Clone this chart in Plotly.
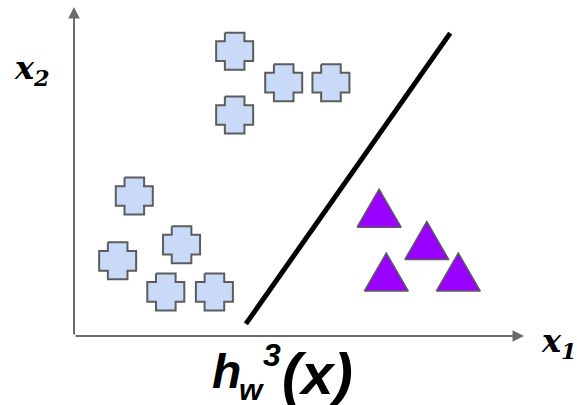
import plotly.graph_objects as go

# ---------------- data (feature space units) ----------------
cross_x1 = [3.57, 4.66, 5.71, 3.57, 1.34, 2.39, 0.97, 2.04, 3.12]
cross_x2 = [6.33, 5.63, 5.63, 4.91, 3.11, 2.03, 1.67, 0.98, 0.98]
tri_x1 = [6.78, 7.84, 6.94, 8.54]
tri_x2 = [2.84, 2.12, 1.42, 1.42]
boundary_x1 = [3.82, 8.36]
boundary_x2 = [0.27, 6.73]
axis_x1_end = 10.0
axis_x2_end = 7.31

# ---------------- styling ----------------
W, H = 577, 405
PX = 45.0            # pixels per data unit
ORIGIN_PX = (74, 336)
AXIS_COLOR = "#6b6b6b"
EDGE = "#5c5c5c"

# marker shape templates (pixels)
R, A = 18.5, 9.8
cross_tpl = [(-A, R), (A, R), (A, A), (R, A), (R, -A), (A, -A), (A, -R),
             (-A, -R), (-A, -A), (-R, -A), (-R, A), (-A, A), (-A, R)]
TW, TH = 22, 19
tri_tpl = [(-TW, -TH), (TW, -TH), (0, TH), (-TW, -TH)]


def polys(cx, cy, tpl):
    xs, ys = [], []
    for x0, y0 in zip(cx, cy):
        for dx, dy in tpl:
            xs.append(x0 + dx / PX)
            ys.append(y0 + dy / PX)
        xs.append(None)
        ys.append(None)
    return xs, ys


fig = go.Figure()

cx, cy = polys(cross_x1, cross_x2, cross_tpl)
fig.add_trace(go.Scatter(x=cx, y=cy, mode="lines", fill="toself",
                         fillcolor="#c9daf8", line=dict(color=EDGE, width=2),
                         hoverinfo="skip", showlegend=False))

tx, ty = polys(tri_x1, tri_x2, tri_tpl)
fig.add_trace(go.Scatter(x=tx, y=ty, mode="lines", fill="toself",
                         fillcolor="#9900ff", line=dict(color=EDGE, width=1.5),
                         hoverinfo="skip", showlegend=False))

fig.add_trace(go.Scatter(x=boundary_x1, y=boundary_x2, mode="lines",
                         line=dict(color="black", width=5),
                         hoverinfo="skip", showlegend=False))

# axes arrows
arrow = dict(showarrow=True, arrowhead=2, arrowsize=1.15, arrowwidth=2,
             arrowcolor=AXIS_COLOR, text="", xref="x", yref="y",
             axref="x", ayref="y", standoff=0, startstandoff=0)
fig.add_annotation(x=axis_x1_end, y=0, ax=0, ay=0, **arrow)
fig.add_annotation(x=0, y=axis_x2_end, ax=0, ay=0, **arrow)


def ptxt(text, px, py, size, family, xanchor="left"):
    fig.add_annotation(text=text, x=px / W, y=1 - py / H, xref="paper",
                       yref="paper", showarrow=False, xanchor=xanchor,
                       yanchor="middle",
                       font=dict(size=size, family=family, color="black"))


SERIF = "DejaVu Serif"
SANS = "Liberation Sans"
ptxt("<b><i>x<sub>2</sub></i></b>", 12, 70, 32, SERIF)
ptxt("<b><i>x<sub>1</sub></i></b>", 539, 343, 32, SERIF)
ptxt("<b><i>h</i></b>", 210, 371, 48, SANS)
ptxt("<b><i>w</i></b>", 237, 389, 30, SANS)
ptxt("<b><i>3</i></b>", 261, 355, 32, SANS)
ptxt("<b><i>(x)</i></b>", 280, 373, 58, SANS)

fig.update_layout(
    width=W, height=H, margin=dict(l=0, r=0, t=0, b=0),
    paper_bgcolor="white", plot_bgcolor="white",
    xaxis=dict(range=[-ORIGIN_PX[0] / PX, (W - ORIGIN_PX[0]) / PX],
               visible=False, fixedrange=True),
    yaxis=dict(range=[-(H - ORIGIN_PX[1]) / PX, ORIGIN_PX[1] / PX],
               visible=False, fixedrange=True),
)

fig.write_html("out.html", config={"displayModeBar": False},
               post_script="document.body.style.margin='0';document.body.style.overflow='hidden';")
